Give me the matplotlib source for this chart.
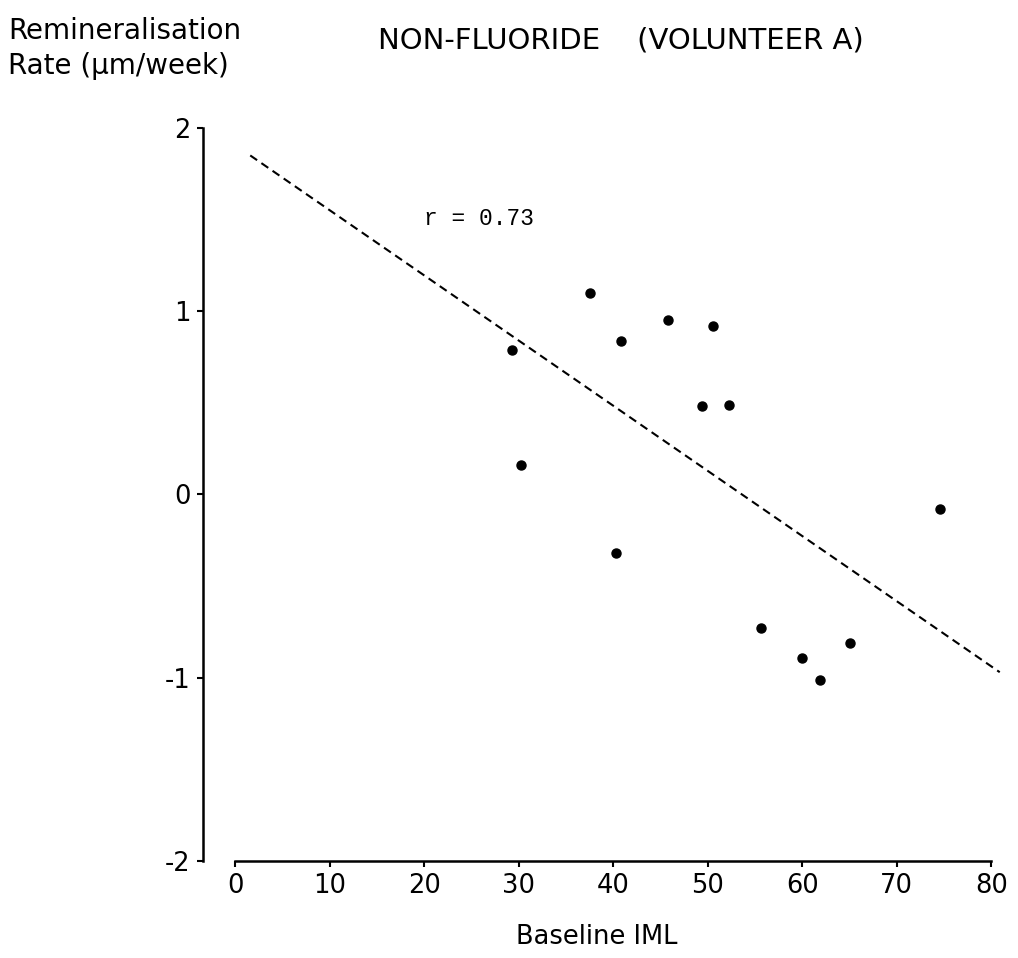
import matplotlib.pyplot as plt

# baseline IML vs remineralisation rate, volunteer A (non-fluoride)
iml = [29.3, 30.2, 37.5, 40.8, 40.3, 45.8, 50.6, 49.4, 52.3, 55.6, 60.0, 61.9, 65.1, 74.6]
rate = [0.79, 0.16, 1.10, 0.84, -0.32, 0.95, 0.92, 0.48, 0.49, -0.73, -0.89, -1.01, -0.81, -0.08]

# regression line end points
fit_x = [1.6, 80.9]
fit_y = [1.85, -0.97]

xticks = [0, 10, 20, 30, 40, 50, 60, 70, 80]
yticks = [-2, -1, 0, 1, 2]

plt.rcParams['font.family'] = ['DejaVu Sans']

fig = plt.figure(figsize=(10.18, 9.58), dpi=100)
ax = fig.add_axes([0.1994, 0.1013, 0.7836, 0.7747])

ax.plot(fit_x, fit_y, color='black', linestyle=(0, (4, 2.5)), linewidth=1.5)
ax.plot(iml, rate, 'o', color='black', markersize=6.5)

ax.set_xlim(-3.4, 81)
ax.set_ylim(-2.0, 2.05)
ax.set_xticks(xticks)
ax.set_yticks(yticks)
ax.set_xticklabels([str(v) for v in xticks])
ax.set_yticklabels([str(v) for v in yticks])

for s in ['top', 'right']:
    ax.spines[s].set_visible(False)
ax.spines['bottom'].set_bounds(0, 80)
ax.spines['left'].set_bounds(-2, 2)
ax.spines['bottom'].set_linewidth(1.8)
ax.spines['left'].set_linewidth(1.8)
ax.tick_params(axis='both', direction='out', length=4, width=1.5, labelsize=18.5, pad=5)

ax.text(20, 1.47, 'r = 0.73', family='Liberation Mono', fontsize=16.5)

fig.text(0.61, 0.958, 'NON-FLUORIDE    (VOLUNTEER A)', ha='center', va='center', fontsize=21)
fig.text(0.008, 0.982, 'Remineralisation\nRate (μm/week)', ha='left', va='top',
         fontsize=20, linespacing=1.3)
fig.text(0.586, 0.008, 'Baseline IML', ha='center', va='bottom', fontsize=18.5)

fig.savefig('out.png', dpi=100)
